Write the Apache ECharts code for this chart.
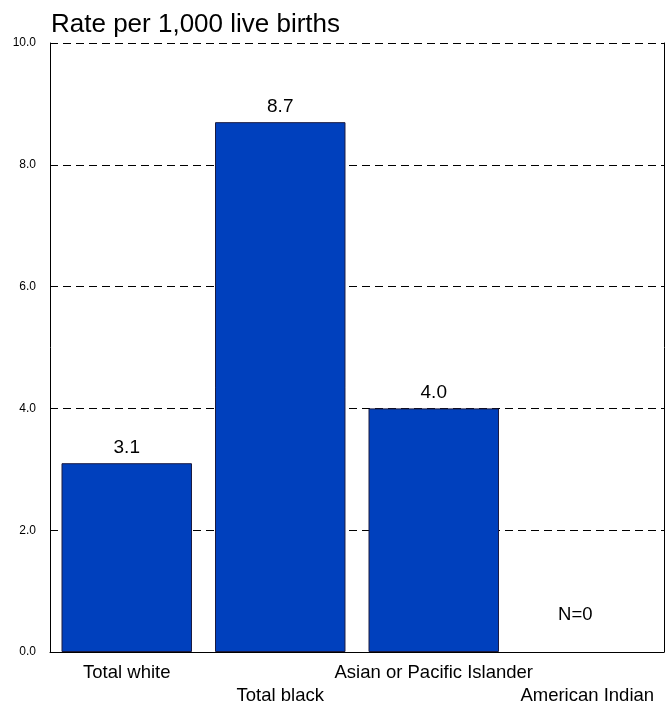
<!DOCTYPE html>
<html>
<head>
<meta charset="utf-8">
<script src="https://cdn.jsdelivr.net/npm/echarts@6/dist/echarts.min.js"></script>
<style>html,body{margin:0;padding:0;background:#fff}#c{width:671px;height:704px}</style>
</head>
<body>
<div id="c"></div>
<script>
var categories = ['Total white', 'Total black', 'Asian or Pacific Islander', 'American Indian'];
var rates = [3.1, 8.7, 4.0, 0];
var valueLabels = ['3.1', '8.7', '4.0', 'N=0'];
var yTicks = [0, 2, 4, 6, 8, 10];
var titleText = 'Rate per 1,000 live births';

var chart = echarts.init(document.getElementById('c'));
var FONT = '"Liberation Sans", Arial, sans-serif';
chart.setOption({
  animation: false,
  backgroundColor: '#fff',
  title: {
    text: titleText, left: 46, top: 7,
    textStyle: { fontFamily: FONT, fontSize: 26, fontWeight: 'normal', color: '#000' }
  },
  grid: { left: 50, right: 7, top: 43, bottom: 52, containLabel: false, outerBoundsMode: 'none' },
  xAxis: {
    type: 'category', data: categories,
    axisLine: { lineStyle: { color: '#000', width: 1 } },
    axisTick: { show: false },
    axisLabel: {
      interval: 0, margin: 9, fontFamily: FONT, fontSize: 18.5, color: '#000', lineHeight: 23,
      formatter: function (v, i) { return i % 2 === 1 ? '\n' + v : v; }
    }
  },
  yAxis: [{
    type: 'value', min: yTicks[0], max: yTicks[yTicks.length - 1], interval: 2,
    axisLine: { show: true, lineStyle: { color: '#000', width: 1 } },
    axisTick: { show: false },
    axisLabel: { margin: 14, fontFamily: FONT, fontSize: 12, color: '#000',
      formatter: function (v) { return v.toFixed(1); } },
    splitLine: { show: true, lineStyle: { color: '#000', type: [8, 5], width: 1 } }
  }, {
    type: 'value', min: yTicks[0], max: yTicks[yTicks.length - 1], interval: 2, position: 'right',
    axisLine: { show: true, lineStyle: { color: '#000', width: 1 } },
    axisTick: { show: false }, axisLabel: { show: false }, splitLine: { show: false }
  }],
  series: [{
    type: 'bar', barWidth: '85%',
    data: rates.map(function (v, i) {
      return {
        value: v,
        label: {
          show: true, position: 'top', distance: i === 3 ? 28 : 6,
          offset: i === 3 ? [-12, 0] : [0, 0],
          formatter: valueLabels[i],
          fontFamily: FONT, fontSize: i === 3 ? 18.5 : 19, color: '#000'
        },
        itemStyle: i === 3 ? { borderWidth: 0 } : undefined
      };
    }),
    itemStyle: { color: '#0040BD', borderColor: '#1a1a40', borderWidth: 1 }
  }]
});
</script>
</body>
</html>
